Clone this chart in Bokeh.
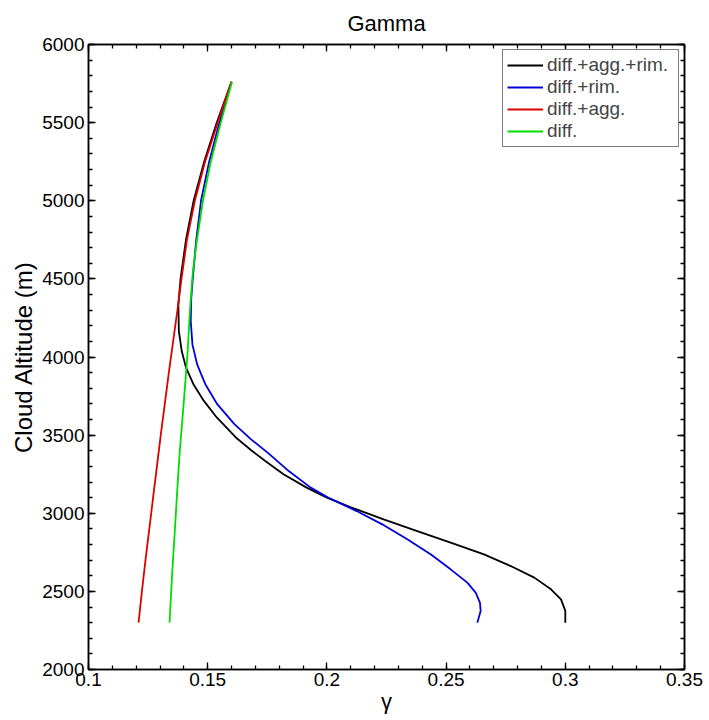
from bokeh.plotting import figure
from bokeh.models import LinearAxis, FixedTicker, CustomJSTickFormatter, Range1d
from bokeh.embed import file_html
from bokeh.resources import INLINE

FONT = "Liberation Sans"

# diff.+agg.+rim. (black)
alt_black = [2300, 2375, 2449, 2513, 2588, 2662, 2737, 2812, 2886, 2961, 3040, 3100, 3164,
             3249, 3336, 3400, 3485, 3613, 3719, 3826, 3932, 4038, 4166, 4334, 4500, 4752,
             5000, 5244, 5500, 5761]
gam_black = [0.300, 0.300, 0.2982, 0.294, 0.287, 0.2771, 0.2659, 0.2519, 0.2379, 0.2238, 0.2098,
             0.2000, 0.1915, 0.1818, 0.1740, 0.1685, 0.1618, 0.1538, 0.1484, 0.1440, 0.1409,
             0.1391, 0.1379, 0.1377, 0.1386, 0.1409, 0.1441, 0.1484, 0.1538, 0.1600]

# diff.+rim. (blue)
alt_blue = [2300, 2375, 2428, 2492, 2556, 2641, 2737, 2833, 2929, 3014, 3100, 3164, 3270,
            3377, 3473, 3570, 3698, 3826, 3951, 4079, 4228, 4377, 4547, 4750, 5000, 5250,
            5500, 5761]
gam_blue = [0.2631, 0.2645, 0.2642, 0.2624, 0.2589, 0.2519, 0.2435, 0.2337, 0.2232, 0.2125,
            0.2005, 0.1932, 0.1840, 0.1760, 0.1682, 0.1612, 0.1540, 0.1490, 0.1456, 0.1436,
            0.1429, 0.1431, 0.1440, 0.1452, 0.1472, 0.1506, 0.1549, 0.1600]

# diff.+agg. (red)
alt_red = [2300, 2500, 2700, 2900, 3100, 3300, 3500, 3700, 3900, 4100, 4300, 4500, 4750,
           5000, 5250, 5500, 5761]
gam_red = [0.1210, 0.1224, 0.1239, 0.1255, 0.1271, 0.1287, 0.1303, 0.1320, 0.1337, 0.1355,
           0.1373, 0.1390, 0.1413, 0.1446, 0.1489, 0.1542, 0.1600]

# diff. (green)
alt_green = [2300, 2590, 2910, 3166, 3379, 3698, 4015, 4334, 4547, 4750, 5000, 5250, 5500, 5761]
gam_green = [0.1340, 0.1350, 0.1363, 0.1373, 0.1382, 0.1399, 0.1415, 0.1427, 0.1438, 0.1455,
             0.1480, 0.1513, 0.1555, 0.1602]

x_ticks = [0.1, 0.15, 0.2, 0.25, 0.3, 0.35]
y_ticks = [2000, 2500, 3000, 3500, 4000, 4500, 5000, 5500, 6000]

x_minor = [round(0.1 + 0.01 * i, 2) for i in range(26)]
y_minor = [2000 + 100 * i for i in range(41)]

p = figure(width=709, height=720, output_backend="svg", toolbar_location=None,
           x_range=Range1d(0.1, 0.35), y_range=Range1d(2000, 6000),
           min_border_left=88, min_border_right=25, min_border_top=44, min_border_bottom=51,
           title="Gamma")
p.title.text_font = FONT
p.title.text_font_size = "22px"
p.title.text_font_style = "normal"
p.title.text_color = "black"
p.title.align = "center"
p.title.offset = 0
p.title.standoff = 17

p.xgrid.visible = False
p.ygrid.visible = False
p.outline_line_color = "black"
p.outline_line_width = 1.5
p.background_fill_color = "white"
p.border_fill_color = "white"

fmt = CustomJSTickFormatter(code="return String(parseFloat(tick.toFixed(4)));")
blank_fmt = CustomJSTickFormatter(code="return '';")

def style_axis(ax, show_labels):
    ax.axis_line_color = "black"
    ax.axis_line_width = 1.5
    ax.major_tick_in = 7
    ax.major_tick_out = 0
    ax.minor_tick_in = 4
    ax.minor_tick_out = 0
    ax.major_tick_line_color = "black"
    ax.minor_tick_line_color = "black"
    ax.major_tick_line_width = 1.3
    ax.minor_tick_line_width = 1.3
    if show_labels:
        ax.formatter = fmt
        ax.major_label_text_font = FONT
        ax.major_label_text_font_size = "19px"
        ax.major_label_text_color = "black"
        ax.major_label_standoff = 4
        ax.axis_label_text_font = FONT
        ax.axis_label_text_font_style = "normal"
        ax.axis_label_text_color = "black"
    else:
        ax.formatter = blank_fmt
        ax.major_label_text_font_size = "0px"
        ax.major_label_standoff = 0

xa = p.xaxis[0]
xa.ticker = FixedTicker(ticks=x_ticks, minor_ticks=x_minor)
xa.axis_label = "γ"
style_axis(xa, True)
xa.major_label_standoff = 3
xa.axis_label_text_font_size = "22px"
xa.axis_label_standoff = 0

ya = p.yaxis[0]
ya.ticker = FixedTicker(ticks=y_ticks, minor_ticks=y_minor)
ya.axis_label = "Cloud Altitude (m)"
style_axis(ya, True)
ya.axis_label_text_font_size = "24px"
ya.axis_label_standoff = 2

top = LinearAxis(ticker=FixedTicker(ticks=x_ticks, minor_ticks=x_minor))
style_axis(top, False)
p.add_layout(top, "above")
right = LinearAxis(ticker=FixedTicker(ticks=y_ticks, minor_ticks=y_minor))
style_axis(right, False)
p.add_layout(right, "right")

lw = 1.8
p.line(gam_black, alt_black, line_color="#000000", line_width=lw, legend_label="diff.+agg.+rim.")
p.line(gam_blue, alt_blue, line_color="#0000dd", line_width=lw, legend_label="diff.+rim.")
p.line(gam_red, alt_red, line_color="#dd0000", line_width=lw, legend_label="diff.+agg.")
p.line(gam_green, alt_green, line_color="#00dd00", line_width=lw, legend_label="diff.")

lg = p.legend[0]
lg.location = "top_right"
lg.margin = 5
lg.padding = 4
lg.spacing = 0
lg.glyph_width = 36
lg.glyph_height = 20
lg.label_height = 20
lg.label_width = 127
lg.label_standoff = 4
lg.label_text_font = FONT
lg.label_text_font_size = "19px"
lg.border_line_color = "black"
lg.border_line_width = 1.5
lg.background_fill_alpha = 1.0

open("out.html", "w").write(file_html(p, INLINE))
